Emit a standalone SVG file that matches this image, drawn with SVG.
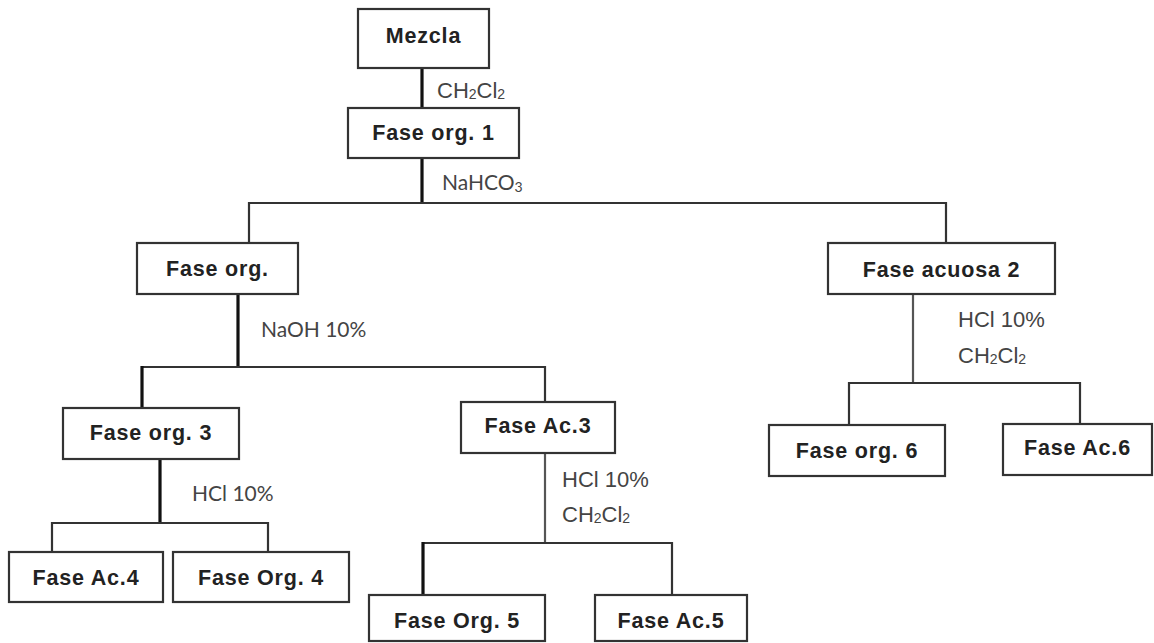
<svg xmlns="http://www.w3.org/2000/svg" width="1154" height="643" viewBox="0 0 1154 643">
<style>
.box{fill:#fff;stroke:#333;stroke-width:2.2}
.nt{font-family:"Liberation Sans",Arial,sans-serif;font-weight:bold;font-size:21.5px;letter-spacing:0.8px;fill:#222;text-anchor:middle}
.lbl{font-family:"Liberation Sans",Arial,sans-serif;font-size:22px;fill:#444}
.lbc{font-family:Lato,"Open Sans",sans-serif;font-size:21px;fill:#444}
.sub{font-size:14px}
.thick{stroke:#111;stroke-width:3.2;fill:none}
.thin{stroke:#333;stroke-width:2.2;fill:none}
.gray{stroke:#555;stroke-width:2.2;fill:none}
</style>
<rect width="1154" height="643" fill="#fff"/>
<g id="connectors">
<line class="thick" x1="422" y1="68" x2="422" y2="108"/>
<line class="thick" x1="422" y1="158" x2="422" y2="203"/>
<polyline class="thin" points="249,243 249,203 946,203 946,243"/>
<line class="thick" x1="238" y1="294" x2="238" y2="367"/>
<polyline class="thin" points="142,367 545,367 545,402"/>
<line class="thick" x1="142" y1="366" x2="142" y2="408"/>
<line class="thick" x1="160" y1="459" x2="160" y2="523"/>
<polyline class="thin" points="52,552 52,523 268,523 268,552"/>
<line class="gray" x1="545" y1="453" x2="545" y2="543"/>
<polyline class="thin" points="423,543 672,543 672,595"/>
<line class="thick" x1="423" y1="542" x2="423" y2="595"/>
<line class="gray" x1="913" y1="294" x2="913" y2="383"/>
<polyline class="thin" points="849,425 849,383 1080,383 1080,425"/>
</g>
<g id="labels">
<text class="lbl" x="437" y="98">CH<tspan class="sub" dy="1">2</tspan><tspan dy="-1">Cl</tspan><tspan class="sub" dy="1">2</tspan></text>
<text class="lbc" x="442" y="190">NaHCO<tspan class="sub" dy="2">3</tspan></text>
<text class="lbc" x="261" y="337">NaOH 10%</text>
<text class="lbc" x="192" y="501">HCl 10%</text>
<text class="lbl" x="562" y="487">HCl 10%</text>
<text class="lbl" x="562" y="522">CH<tspan class="sub" dy="1">2</tspan><tspan dy="-1">Cl</tspan><tspan class="sub" dy="1">2</tspan></text>
<text class="lbl" x="958" y="327">HCl 10%</text>
<text class="lbl" x="958" y="363">CH<tspan class="sub" dy="1">2</tspan><tspan dy="-1">Cl</tspan><tspan class="sub" dy="1">2</tspan></text>
</g>
<g id="n-mezcla"><rect class="box" x="358" y="9" width="131" height="59"/><text class="nt" x="423.5" y="43">Mezcla</text></g>
<g id="n-org1"><rect class="box" x="348" y="108" width="171" height="50"/><text class="nt" x="433.5" y="140">Fase org. 1</text></g>
<g id="n-org"><rect class="box" x="137" y="243" width="161" height="51"/><text class="nt" x="217.5" y="276">Fase org.</text></g>
<g id="n-acuosa2"><rect class="box" x="828" y="243" width="227" height="51"/><text class="nt" x="941.5" y="277">Fase acuosa 2</text></g>
<g id="n-org3"><rect class="box" x="63" y="408" width="176" height="51"/><text class="nt" x="151" y="440">Fase org. 3</text></g>
<g id="n-ac3"><rect class="box" x="461" y="402" width="154" height="51"/><text class="nt" x="538" y="433">Fase Ac.3</text></g>
<g id="n-org6"><rect class="box" x="769" y="425" width="176" height="51"/><text class="nt" x="857" y="458">Fase org. 6</text></g>
<g id="n-ac6"><rect class="box" x="1003" y="424" width="149" height="51"/><text class="nt" x="1077.5" y="455">Fase Ac.6</text></g>
<g id="n-ac4"><rect class="box" x="9" y="552" width="154" height="50"/><text class="nt" x="86" y="585">Fase Ac.4</text></g>
<g id="n-org4"><rect class="box" x="173" y="552" width="176" height="50"/><text class="nt" x="261" y="585">Fase Org. 4</text></g>
<g id="n-org5"><rect class="box" x="369" y="595" width="176" height="46"/><text class="nt" x="457" y="628">Fase Org. 5</text></g>
<g id="n-ac5"><rect class="box" x="595" y="595" width="152" height="46"/><text class="nt" x="671" y="628">Fase Ac.5</text></g>
</svg>
